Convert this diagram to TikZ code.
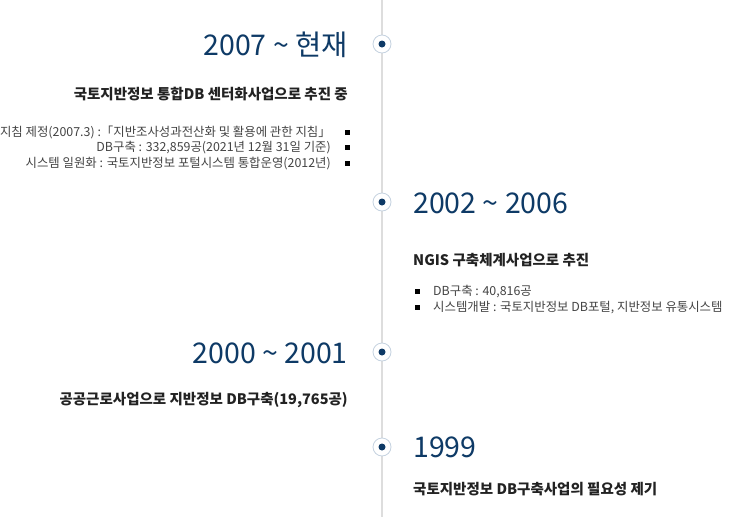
\documentclass[tikz,border=0pt]{standalone}
\usepackage{fontspec}
\setmainfont{Noto Sans CJK KR}
\definecolor{navy}{HTML}{0E3A66}
\definecolor{ink}{HTML}{222222}
\definecolor{txt}{HTML}{444444}
\definecolor{rail}{HTML}{DDDDDD}
\definecolor{ring}{HTML}{C5D2E0}
\begin{document}
\begin{tikzpicture}[x=1pt,y=-1pt,
  year/.style={font=\fontsize{28.5}{28.5}\selectfont, text=navy, inner sep=0pt},
  title/.style={font=\bfseries\fontsize{14.5}{14.5}\selectfont, text=ink, inner sep=0pt},
  item/.style={font=\fontsize{12.4}{12.4}\selectfont, text=txt, inner sep=0pt},
  dot/.style={circle, draw=ring, line width=0.8pt, fill=white, minimum size=18pt, inner sep=0pt},
  pin/.style={circle, fill=navy, minimum size=7pt, inner sep=0pt},
  bul/.style={fill=black, minimum size=5pt, inner sep=0pt}]
\useasboundingbox[fill=white] (0,0) rectangle (729,517);
\coordinate (top) at (382,0);
\coordinate (bot) at (382,517);
\draw[line width=2pt, rail] (top) -- (bot);

% 2007 ~
\node[dot] (d1) at (382,44) {};
\node[pin] (p1) at (d1) {};
\node[year, anchor=base east] (y1) at (348,55) {2007 \textasciitilde{} 현재};
\node[title, anchor=base east] (t1) at (348,99) {국토지반정보 통합DB 센터화사업으로 추진 중};
\node[item, anchor=base east] (i1a) at (331,136) {지침 제정(2007.3) :「지반조사성과전산화 및 활용에 관한 지침」};
\node[item, anchor=base east] (i1b) at (331,151) {DB구축 : 332,859공(2021년 12월 31일 기준)};
\node[item, anchor=base east] (i1c) at (331,167) {시스템 일원화 : 국토지반정보 포털시스템 통합운영(2012년)};
\node[bul] (b1a) at (347,132) {};
\node[bul] (b1b) at (347,147) {};
\node[bul] (b1c) at (347,163) {};

% 2002 ~ 2006
\node[dot] (d2) at (382,202) {};
\node[pin] (p2) at (d2) {};
\node[year, anchor=base west] (y2) at (413,213) {2002 \textasciitilde{} 2006};
\node[title, anchor=base west] (t2) at (413,265) {NGIS 구축체계사업으로 추진};
\node[bul] (b2a) at (417,291) {};
\node[bul] (b2b) at (417,307) {};
\node[item, anchor=base west] (i2a) at (433,295) {DB구축 : 40,816공};
\node[item, anchor=base west] (i2b) at (433,311) {시스템개발 : 국토지반정보 DB포털, 지반정보 유통시스템};

% 2000 ~ 2001
\node[dot] (d3) at (382,352) {};
\node[pin] (p3) at (d3) {};
\node[year, anchor=base east] (y3) at (348,363) {2000 \textasciitilde{} 2001};
\node[title, anchor=base east] (t3) at (348,404) {공공근로사업으로 지반정보 DB구축(19,765공)};

% 1999
\node[dot] (d4) at (382,447) {};
\node[pin] (p4) at (d4) {};
\node[year, anchor=base west] (y4) at (413,457) {1999};
\node[title, anchor=base west] (t4) at (413,494) {국토지반정보 DB구축사업의 필요성 제기};
\end{tikzpicture}
\end{document}
